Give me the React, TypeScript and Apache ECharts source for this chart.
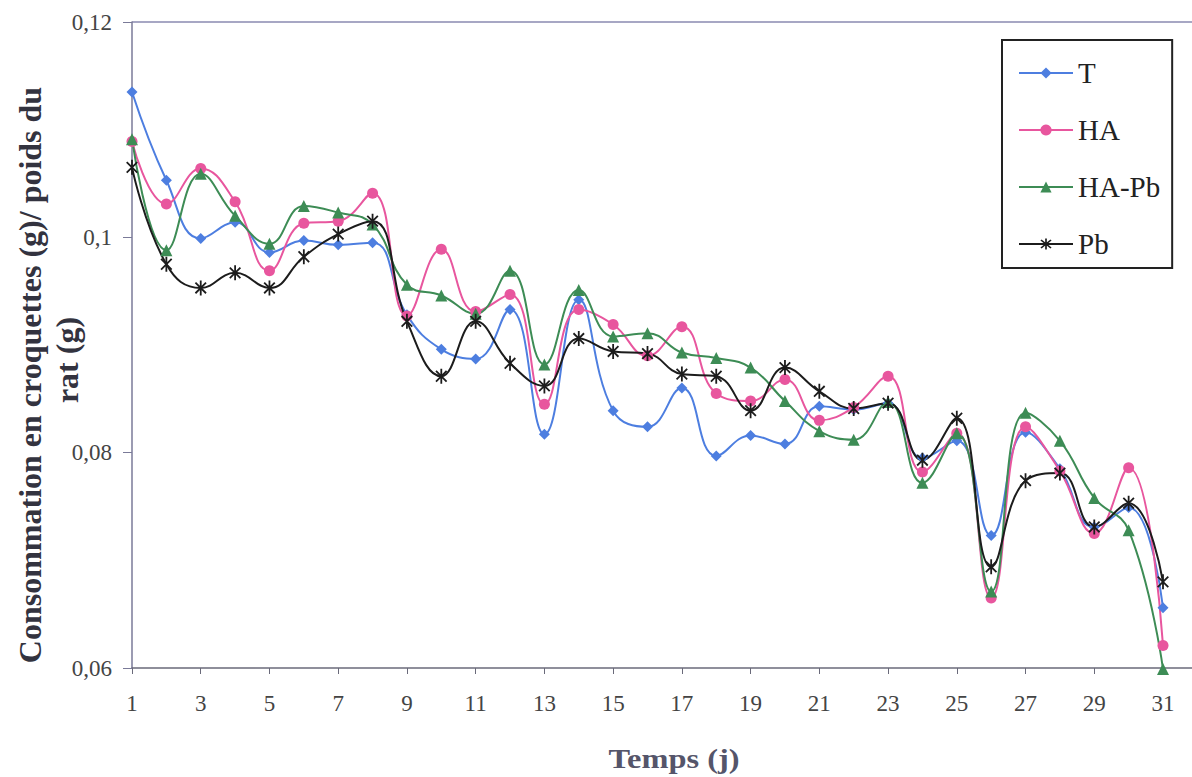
import React, { useEffect, useRef } from "react";
import * as echarts from "echarts";

const days = Array.from({ length: 31 }, (_, i) => String(i + 1));

const seriesNames = ["T", "HA", "HA-Pb", "Pb"];

const valuesT = [0.1135, 0.1053, 0.0999, 0.1014, 0.0986, 0.0997, 0.0993, 0.0995, 0.0928, 0.0896, 0.0887, 0.0933, 0.0817, 0.0942, 0.0839, 0.0824, 0.086, 0.0797, 0.0816, 0.0808, 0.0843, 0.084, 0.0846, 0.0795, 0.0811, 0.0723, 0.0819, 0.0785, 0.0731, 0.0749, 0.0656];
const valuesHA = [0.1089, 0.1031, 0.1064, 0.1033, 0.0969, 0.1013, 0.1015, 0.1041, 0.0927, 0.0989, 0.0931, 0.0947, 0.0845, 0.0933, 0.0919, 0.089, 0.0917, 0.0855, 0.0848, 0.0868, 0.083, 0.0842, 0.0871, 0.0782, 0.0818, 0.0665, 0.0824, 0.0783, 0.0725, 0.0786, 0.0621];
const valuesHAPb = [0.1091, 0.0988, 0.1059, 0.102, 0.0994, 0.1029, 0.1023, 0.1012, 0.0956, 0.0946, 0.0929, 0.0969, 0.0882, 0.0951, 0.0908, 0.0911, 0.0893, 0.0888, 0.0879, 0.0848, 0.082, 0.0812, 0.0847, 0.0772, 0.0818, 0.0671, 0.0837, 0.0811, 0.0758, 0.0728, 0.0599];
const valuesPb = [0.1065, 0.0975, 0.0953, 0.0967, 0.0953, 0.0982, 0.1003, 0.1015, 0.0922, 0.0871, 0.0922, 0.0883, 0.0862, 0.0906, 0.0894, 0.0892, 0.0873, 0.0871, 0.0839, 0.0879, 0.0857, 0.0841, 0.0846, 0.0793, 0.0832, 0.0694, 0.0774, 0.0781, 0.0731, 0.0753, 0.068];

const yMin = 0.06;
const yMax = 0.12;
const yStep = 0.02;

const xTitle = "Temps (j)";
const yTitleLine1 = "Consommation en croquettes (g)/ poids du";
const yTitleLine2 = "rat (g)";

const SERIF = "Liberation Serif";

const asterisk =
  "path://M-1.2,-10L1.2,-10L1.2,10L-1.2,10Z" +
  "M-7.92,-6.22L-6.22,-7.92L7.92,6.22L6.22,7.92Z" +
  "M-6.22,7.92L-7.92,6.22L6.22,-7.92L7.92,-6.22Z";

export default function App() {
  const ref = useRef<HTMLDivElement>(null);

  useEffect(() => {
    if (!ref.current) return;
    const chart = echarts.init(ref.current, null, { renderer: "svg" });

    const mk = (name: string, data: number[], color: string, symbol: string, size: number) => ({
      name,
      type: "line",
      data,
      smooth: 0.45,
      clip: false,
      symbol,
      symbolSize: size,
      symbolKeepAspect: true,
      showAllSymbol: true,
      lineStyle: { color, width: 2 },
      itemStyle: { color },
      emphasis: { disabled: true },
    });

    chart.setOption({
      animation: false,
      backgroundColor: "#ffffff",
      textStyle: { fontFamily: SERIF },
      grid: { left: 132, right: 29, top: 22, bottom: 109, containLabel: false },
      xAxis: {
        type: "category",
        data: days,
        boundaryGap: false,
        axisLine: { lineStyle: { color: "#6a6a7a", width: 1.5 } },
        axisTick: { interval: 1, length: 6, lineStyle: { color: "#6a6a7a" } },
        axisLabel: {
          interval: 1,
          margin: 24,
          fontSize: 23,
          fontFamily: SERIF,
          color: "#444",
        },
        splitLine: { show: false },
      },
      yAxis: {
        type: "value",
        min: yMin,
        max: yMax,
        interval: yStep,
        axisLine: { show: true, lineStyle: { color: "#7a7a98", width: 1.5 } },
        axisTick: { show: true, length: 9, lineStyle: { color: "#7a7a98" } },
        axisLabel: {
          margin: 20,
          fontSize: 23,
          fontFamily: SERIF,
          color: "#444",
          formatter: (v: number) => String(Math.round(v * 100) / 100).replace(".", ","),
        },
        splitLine: { show: false },
      },
      legend: {
        orient: "vertical",
        left: 1002,
        top: 40,
        padding: [18, 12, 9, 16],
        itemGap: 27,
        itemWidth: 54,
        itemHeight: 14,
        borderColor: "#222",
        borderWidth: 2,
        backgroundColor: "#fff",
        data: seriesNames,
        textStyle: { fontSize: 29, fontFamily: SERIF, color: "#222", lineHeight: 30 },
      },
      graphic: [
        {
          type: "line",
          shape: { x1: 132, y1: 22, x2: 1192, y2: 22 },
          style: { stroke: "#8a8ab0", lineWidth: 1.5 },
        },
        {
          type: "line",
          shape: { x1: 1163, y1: 668, x2: 1192, y2: 668 },
          style: { stroke: "#6a6a7a", lineWidth: 1.5 },
        },
        {
          type: "text",
          x: 674,
          y: 758,
          scaleX: 1.2,
          style: {
            text: xTitle,
            font: `bold 27px "${SERIF}"`,
            fill: "#55556a",
            textAlign: "center",
            textVerticalAlign: "middle",
          },
        },
        {
          type: "text",
          x: 30,
          y: 375,
          rotation: Math.PI / 2,
          style: {
            text: yTitleLine1,
            font: `bold 32px "${SERIF}"`,
            fill: "#33333f",
            textAlign: "center",
            textVerticalAlign: "middle",
          },
        },
        {
          type: "text",
          x: 67,
          y: 360,
          rotation: Math.PI / 2,
          style: {
            text: yTitleLine2,
            font: `bold 32px "${SERIF}"`,
            fill: "#33333f",
            textAlign: "center",
            textVerticalAlign: "middle",
          },
        },
      ],
      series: [
        mk(seriesNames[0], valuesT, "#4d7ee0", "diamond", 11),
        mk(seriesNames[1], valuesHA, "#e8569e", "circle", 11),
        mk(seriesNames[2], valuesHAPb, "#3d8c55", "triangle", 12),
        mk(seriesNames[3], valuesPb, "#1c1c1c", asterisk, 15),
      ],
    });

    return () => chart.dispose();
  }, []);

  return (
    <div
      ref={ref}
      style={{ position: "absolute", left: 0, top: 0, width: 1192, height: 777, background: "#fff" }}
    />
  );
}
